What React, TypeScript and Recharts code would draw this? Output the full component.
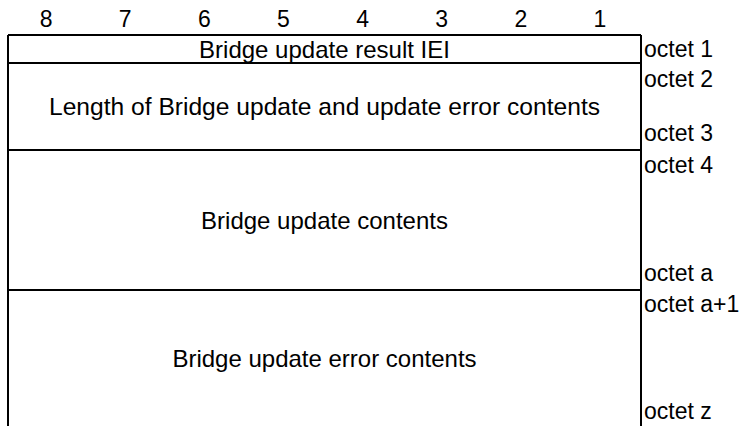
import React from "react";
import { ComposedChart, XAxis, YAxis, ReferenceLine, ReferenceArea } from "recharts";

// bit numbers over the columns, most significant first
const bitLabels = ["8", "7", "6", "5", "4", "3", "2", "1"];
const bitTicks = [0.5, 1.5, 2.5, 3.5, 4.5, 5.5, 6.5, 7.5];

// fields of the information element, top to bottom (row extents in diagram units)
const fieldNames = [
  "Bridge update result IEI",
  "Length of Bridge update and update error contents",
  "Bridge update contents",
  "Bridge update error contents",
];
const fieldStart = [0, 28, 115, 255];
const fieldEnd = [28, 115, 255, 391];

// octet markers on the right side
const octetLabels = ["octet 1", "octet 2", "octet 3", "octet 4", "octet a", "octet a+1", "octet z"];
const octetAt = [22, 52, 106, 138, 246, 277, 384];

const FONT = "Arial, 'Liberation Sans', sans-serif";
const INK = "#000000";
// the length row is typeset a touch wider in the original
const fieldFontSize = (i: number) => (i === 1 ? 24.6 : 24);

const data = bitTicks.map((b, i) => ({ bit: b, row: fieldStart[i % fieldStart.length] }));

function BitTick({ x, y, payload }: any) {
  const idx = bitTicks.indexOf(payload.value);
  return (
    <text x={x - 1.5} y={y} textAnchor="middle" fontFamily={FONT} fontSize={23} fill={INK}>
      {bitLabels[idx]}
    </text>
  );
}

function OctetTick({ x, y, payload }: any) {
  const idx = octetAt.indexOf(payload.value);
  return (
    <text x={x} y={y} textAnchor="start" fontFamily={FONT} fontSize={23} fill={INK}>
      {octetLabels[idx]}
    </text>
  );
}

export default function App() {
  return (
    <div style={{ position: "absolute", left: 0, top: 0, background: "#fff" }}>
      <ComposedChart width={744} height={426} data={data} margin={{ top: 0, right: 0, bottom: 0, left: 8 }}>
        <XAxis
          dataKey="bit"
          type="number"
          orientation="top"
          domain={[0, 8]}
          ticks={bitTicks}
          height={35}
          axisLine={false}
          tickLine={false}
          tickSize={0}
          tickMargin={8}
          tick={<BitTick />}
          interval={0}
          allowDataOverflow
        />
        <YAxis
          dataKey="row"
          type="number"
          orientation="right"
          domain={[0, 391]}
          reversed
          ticks={octetAt}
          width={103}
          axisLine={false}
          tickLine={false}
          tickSize={0}
          tickMargin={3}
          tick={<OctetTick />}
          interval={0}
          allowDataOverflow
        />
        {fieldNames.map((name, i) => (
          <ReferenceArea
            key={name}
            x1={0}
            x2={8}
            y1={fieldStart[i]}
            y2={fieldEnd[i]}
            fill="none"
            stroke="none"
            ifOverflow="visible"
            label={{ value: name, position: "center", fontFamily: FONT, fontSize: fieldFontSize(i), fill: INK }}
          />
        ))}
        {fieldStart.map((y) => (
          <ReferenceLine key={"h" + y} y={y} stroke={INK} strokeWidth={2} ifOverflow="visible" />
        ))}
        {[0, 8].map((x) => (
          <ReferenceLine key={"v" + x} x={x} stroke={INK} strokeWidth={2} ifOverflow="visible" />
        ))}
      </ComposedChart>
    </div>
  );
}
